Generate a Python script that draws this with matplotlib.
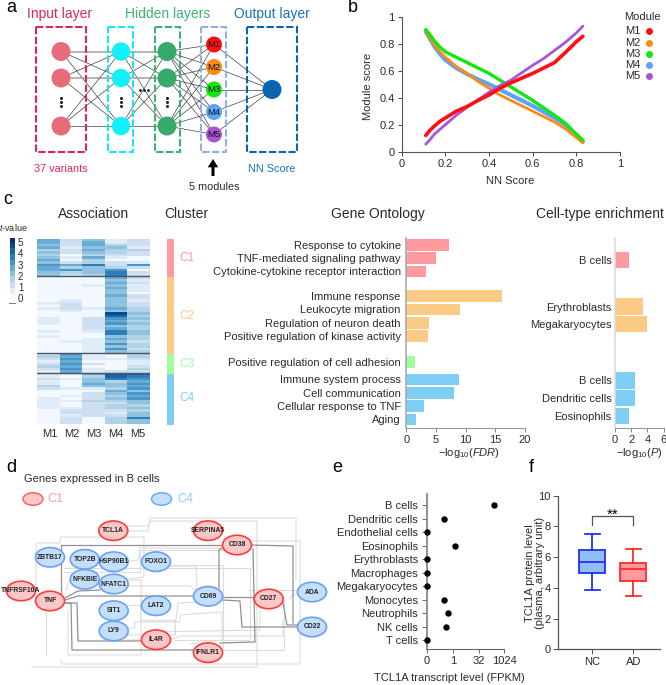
import matplotlib
matplotlib.use("Agg")
import matplotlib.pyplot as plt
import numpy as np
from matplotlib.colors import ListedColormap, BoundaryNorm
from matplotlib.patches import Circle, Ellipse, Rectangle

plt.rcParams['font.family'] = ['Liberation Sans', 'DejaVu Sans']
plt.rcParams['mathtext.fontset'] = 'custom'
plt.rcParams['mathtext.rm'] = 'Liberation Sans'
plt.rcParams['mathtext.it'] = 'Liberation Sans:italic'
plt.rcParams['mathtext.default'] = 'regular'

W, H = 666, 685
DARK = '#2a2a2a'

# panel b
nn_x = [0.11, 0.13, 0.15, 0.175, 0.2, 0.25, 0.3, 0.35, 0.4, 0.45, 0.5, 0.55, 0.6, 0.65, 0.7, 0.75, 0.8, 0.83]
m1 = [0.12, 0.16, 0.19, 0.225, 0.25, 0.30, 0.335, 0.38, 0.42, 0.47, 0.51, 0.545, 0.58, 0.62, 0.66, 0.735, 0.815, 0.855]
m2 = [0.89, 0.84, 0.79, 0.74, 0.70, 0.63, 0.58, 0.52, 0.47, 0.42, 0.38, 0.34, 0.30, 0.26, 0.22, 0.17, 0.105, 0.065]
m3 = [0.905, 0.865, 0.82, 0.775, 0.74, 0.70, 0.66, 0.62, 0.58, 0.53, 0.48, 0.43, 0.38, 0.325, 0.27, 0.21, 0.13, 0.085]
m4 = [0.89, 0.835, 0.78, 0.725, 0.68, 0.62, 0.575, 0.535, 0.50, 0.46, 0.42, 0.38, 0.34, 0.295, 0.25, 0.20, 0.12, 0.075]
m5 = [0.055, 0.09, 0.13, 0.165, 0.20, 0.27, 0.33, 0.385, 0.44, 0.49, 0.53, 0.585, 0.64, 0.69, 0.75, 0.81, 0.88, 0.93]
module_names = ['M1', 'M2', 'M3', 'M4', 'M5']
module_cols = ['#ff1010', '#ff8a14', '#10e810', '#5aa5f5', '#a855d8']

# panel c heatmap, one list per cluster, rows top to bottom
cluster_sizes = [68, 139, 36, 93]
c1_rows = [
    [2.5, 2.8, 2.0, 2.5, 1.8, 2.2, 1.5, 2.0, 2.8, 2.0, 3.0, 2.5, 2.8, 2.0, 2.2],
    [1.2, 1.0, 1.3, 0.5, 1.0, 1.2, 0.4, 0.8, 0.3, 1.0, 2.5, 1.5, 3.0, 1.8, 1.2],
    [2.0, 2.5, 2.8, 2.0, 2.5, 2.2, 1.8, 2.5, 1.5, 1.8, 3.5, 2.0, 2.0, 2.0, 1.8],
    [0.6, 0.8, 1.5, 2.0, 1.8, 1.5, 1.2, 0.5, 0.4, 1.0, 1.2, 1.5, 3.2, 3.5, 3.8],
    [1.2, 1.0, 1.0, 0.8, 1.5, 1.2, 1.0, 0.3, 0.1, 0.5, 3.0, 1.0, 0.3, 1.2, 1.3],
]
c2_rows = [
    [.1, .1, .1, .1, .2, .1, .1, .2, .4, .3, .6, .3, .8, .4, .1, .1, .6, .5, .7, .4, .2, .8, .3, .6, .1, .1, .3, .2, .1, .1],
    [.3, .2, .1, .1, .2, .1, .2, .4, .4, .5, 1.2, 1, 1.2, .5, .3, .1, .1, .2, .1, .2, .3, .1, .1, .4, .3, .5, .4, .3, .4, .3],
    [.1, .1, .3, .5, .1, .1, .1, .1, .1, .2, .4, .1, .5, .1, .3, .1, 1.2, 1.2, 1, 1, 1, .8, .3, .4, .5, .6, .5, .7, .6, .5],
    [2.6, 2.4, 2.8, 2.2, 2.5, 2.3, 2, 2.5, 2.2, 2, 2.4, 2, 2.6, 2.2, 4.5, 4, 3, 2.5, 3, 2.4, 2.8, 3.8, 3.5, 2.2, 2.6, 2, 3, 2.2, 3, 2.4],
    [1, .8, 1.2, .9, .6, .8, .4, 1.2, 1, .5, 1.4, 1, 1.5, 1.8, 2.2, 1.5, 2, 1.5, 2.2, 1.6, 1.8, 2.2, 2.4, 1.6, 1.6, 1.4, 1.5, 1.5, 1.4, 1.6],
]
c3_rows = [
    [1, 1.5, 1, .8, 1, 1.5, 1.2, .8],
    [3, 2.5, 3, 2.8, 3, 2.5, 3, 2.8],
    [.3, .5, .8, .3, 1, .2, .5, .6],
    [.8, .3, .5, .1, .1, .1, .1, 1],
    [1.8, 1.5, 1, .6, .8, 1.2, 1.5, 1],
]
c4_rows = [
    [.8, .6, 1, .9, .5, 1.8, 1.4, .2, .1, .3, .9, .5, .8, .5, .9, .3, .2, .1, .2, .3, .1],
    [.5, .2, .6, .1, .3, .2, .9, .1, .3, .6, .1, .5, .1, .3, .8, 1, 1.2, .8, 1, 1.2, 1.3],
    [2.6, 1.8, 2, 2.2, 2.5, 2.2, .6, .3, 1.2, 1.3, 1.2, 1.5, 1.2, 1.2, 1.3, 1.2, 1.2, 1.2, .2, .4, .2],
    [4, 4.2, 3.8, 1.5, 2.4, 2, 1.5, 2.5, 2.2, 1.5, 2.4, 1.8, 1.2, 1.8, 1.5, 1, .7, 1.2, 1.5, 1.8, 1.6],
    [4, 3.5, 3, 2.6, 3.2, 2.8, 3.2, 2.4, 3, 2.5, 3, 2.4, 2, 1.6, 2, 1.5, 2.4, 2.2, 3.5, 2.2, 2],
]

cluster_names = ['C1', 'C2', 'C3', 'C4']
cluster_cols = ['#ff9a9e', '#fbcb85', '#a0ff9a', '#7dcdf4']

go_terms = ['Response to cytokine', 'TNF-mediated signaling pathway', 'Cytokine-cytokine receptor interaction',
            'Immune response', 'Leukocyte migration', 'Regulation of neuron death',
            'Positive regulation of kinase activity', 'Positive regulation of cell adhesion',
            'Immune system process', 'Cell communication', 'Cellular response to TNF', 'Aging']
go_vals = [7.2, 5.0, 3.4, 16.2, 9.0, 3.8, 3.7, 1.5, 8.9, 8.1, 2.9, 1.7]
go_cluster = [0, 0, 0, 1, 1, 1, 1, 2, 3, 3, 3, 3]

cell_terms = ['B cells', 'Erythroblasts', 'Megakaryocytes', 'B cells', 'Dendritic cells', 'Eosinophils']
cell_vals = [1.7, 3.5, 4.0, 2.5, 2.5, 1.7]
cell_cluster = [0, 1, 1, 3, 3, 3]

# panel e, zero drawn on the axis start
e_cells = ['B cells', 'Dendritic cells', 'Endothelial cells', 'Eosinophils', 'Erythroblasts', 'Macrophages',
           'Megakaryocytes', 'Monocytes', 'Neutrophils', 'NK cells', 'T cells']
e_fpkm = [240, 0.3, 0, 1.4, 0, 0, 0, 0.3, 0.5, 0.39, 0]

# panel f
f_groups = ['NC', 'AD']
f_whislo = [3.85, 3.5]
f_q1 = [5.0, 4.45]
f_med = [5.7, 5.2]
f_q3 = [6.45, 5.65]
f_whishi = [7.5, 6.55]


def ax_px(x0, y0, x1, y1):
    # axes from pixel box, y going down
    return fig.add_axes([x0 / W, 1 - y1 / H, (x1 - x0) / W, (y1 - y0) / H])


def ortho(pts):
    # insert a corner so routed edges only run flat or upright
    out = [pts[0]]
    for (xa, ya), (xb, yb) in zip(pts, pts[1:]):
        if abs(xb - xa) > 4 and abs(yb - ya) > 4:
            out.append((xb, ya))
        out.append((xb, yb))
    return out


fig = plt.figure(figsize=(W / 100, H / 100), dpi=100)
bg = fig.add_axes([0, 0, 1, 1])
bg.set_xlim(0, W)
bg.set_ylim(H, 0)
bg.axis('off')


def label(x, y, s, size=8, color=DARK, ha='center', **kw):
    bg.text(x, y, s, fontsize=size, color=color, ha=ha, va='center', **kw)


for s, x, y in [('a', 11, 7), ('b', 353, 7), ('c', 8, 199), ('d', 11, 467), ('e', 337, 467), ('f', 531, 467)]:
    label(x, y, s, size=13, color='black')

# ---- a: network
layer_y = [51.5, 78, 126]
input_x, hid1_x, hid2_x, mod_x, out_x = 61, 121, 167, 214, 272
mod_y = [44.5, 67, 89.5, 112, 134.5]
out_y = 89.5

for xa, xb in [(input_x, hid1_x), (hid1_x, hid2_x)]:
    for ya in layer_y:
        for yb in layer_y:
            if ya == yb and ya != layer_y[2]:
                bg.plot([xa, xb], [ya, yb], color='#a0a0a0', lw=1.1, zorder=1)
            else:
                bg.plot([xa, xb], [ya, yb], color='#444444', lw=0.5, zorder=1)
for ya in layer_y:
    for yb in mod_y:
        bg.plot([hid2_x, mod_x], [ya, yb], color='#444444', lw=0.5, zorder=1)
for yb in mod_y:
    bg.plot([mod_x, out_x], [yb, out_y], color='#444444', lw=0.5, zorder=1)

boxes = [(36, 86, '#e0245e'), (108, 133, '#19e6f0'), (155, 180, '#3cb371'), (201, 226, '#8fb0e0'), (247, 297, '#0a64b4')]
for x0, x1, c in boxes:
    bg.add_patch(Rectangle((x0, 27), x1 - x0, 125, fill=False, ec=c, lw=1.5, ls=(0, (3.5, 1.2)), zorder=2))

for x, c, r in [(input_x, '#e96a7a', 9.5), (hid1_x, '#12f0fa', 9.2), (hid2_x, '#35ab6b', 9.5)]:
    for y in layer_y:
        bg.add_patch(Circle((x, y), r, fc=c, ec='none', zorder=3))
    for dy in [-4, 0, 4]:
        bg.plot([x], [102 + dy], 'o', ms=1.2, color='#222222', zorder=3)
for dx in [-4, 0, 4]:
    bg.plot([144 + dx], [90], 'o', ms=1.0, color='#222222', zorder=3)
for y, c, n in zip(mod_y, module_cols, module_names):
    bg.add_patch(Circle((mod_x, y), 8, fc=c, ec='none', zorder=3))
    bg.text(mod_x, y, n, fontsize=6.8, ha='center', va='center', color='#111111', zorder=4)
bg.add_patch(Circle((out_x, out_y), 9.5, fc='#0a64b4', ec='none', zorder=3))

label(60, 14, 'Input layer', size=10, color='#e0245e')
label(168, 14, 'Hidden layers', size=10, color='#3cb371')
label(272, 14, 'Output layer', size=10, color='#1a70bd')
label(61, 169, '37 variants', size=7.8, color='#e0245e')
label(272, 169, 'NN Score', size=7.8, color='#1a70bd')
label(214, 187, '5 modules', size=7.8)
bg.annotate('', xy=(213, 159), xytext=(213, 176),
            arrowprops=dict(facecolor='black', edgecolor='black', width=2.2, headwidth=7.5, headlength=6, lw=0))

# ---- b: module scores
ax = ax_px(401.7, 16.7, 620, 151.7)
for vals, c, n in zip([m4, m2, m3, m5, m1], ['#5aa5f5', '#ff8a14', '#10e810', '#a855d8', '#ff1010'],
                      ['M4', 'M2', 'M3', 'M5', 'M1']):
    lw = {'M4': 3.0, 'M1': 2.6, 'M3': 2.4}.get(n, 2.0)
    ax.plot(nn_x, vals, color=c, lw=lw, solid_capstyle='round')
ax.set_xlim(0, 1)
ax.set_ylim(0, 1)
ticks_b = [0, 0.2, 0.4, 0.6, 0.8, 1]
labels_b = ['0', '0.2', '0.4', '0.6', '0.8', '1']
ax.set_xticks(ticks_b, labels_b)
ax.set_yticks(ticks_b, labels_b)
ax.tick_params(labelsize=8, length=3, width=0.7, colors='#444444', labelcolor=DARK, pad=2)
for s in ['top', 'right']:
    ax.spines[s].set_visible(False)
for s in ['left', 'bottom']:
    ax.spines[s].set_color('#555555')
    ax.spines[s].set_linewidth(0.8)
ax.patch.set_alpha(0)
label(510, 181, 'NN Score', size=8)
label(368, 86, 'Module score', size=8, rotation=90)
label(624, 17, 'Module', size=8, ha='left')
for y, c, n in zip([31, 42.5, 54, 65, 76], module_cols, module_names):
    label(625, y, n, size=8, ha='left')
    bg.plot([649], [y], 'o', ms=4, color=c)

# ---- c: heatmap
levels = np.arange(0, 6.0, 0.5)
cmap = ListedColormap(plt.cm.Blues(np.linspace(0.02, 1.0, len(levels) - 1)))
norm = BoundaryNorm(levels, cmap.N)
ax = ax_px(37.3, 239, 150, 424)
start = 0
for size, rows in zip(cluster_sizes, [c1_rows, c2_rows, c3_rows, c4_rows]):
    mat = np.array(rows).T
    edges = np.linspace(start, start + size, mat.shape[0] + 1)
    ax.pcolormesh(np.arange(6), edges, mat, cmap=cmap, norm=norm)
    start += size
    if start < sum(cluster_sizes):
        ax.axhline(start, color='#4a5560', lw=1.0)
ax.set_xlim(0, 5)
ax.set_ylim(sum(cluster_sizes), 0)
ax.set_xticks([])
ax.set_yticks([])
for s in ax.spines.values():
    s.set_visible(False)
for m, x in zip(module_names, [50, 72, 94, 116, 138]):
    label(x, 434, m, size=8)
label(94, 214, 'Association', size=10)
label(186, 214, 'Cluster', size=10)
label(378, 214, 'Gene Ontology', size=10)
label(600, 214, 'Cell-type enrichment', size=10)
for n, y in zip(cluster_sizes, [246, 282, 359, 378.5]):
    label(148, y, str(n), size=7.5, ha='right')

# colour key
cax = ax_px(10, 238, 15, 299)
grad = np.arange(0.25, 5.5, 0.5).reshape(-1, 1)
cax.imshow(grad, cmap=cmap, norm=norm, origin='lower', aspect='auto')
cax.axis('off')
for v in range(6):
    label(18, 299.3 - v * 11.26, str(v), size=7, ha='left')
bg.plot([9, 15], [302.5, 302.5], color='#777777', lw=0.7)
label(-1, 227, r'$\mathit{t}$-value', size=6.5, ha='left')

# cluster bar
cluster_top = 239
for size, c, n, y_mid in zip(cluster_sizes, cluster_cols, cluster_names, [258, 316, 364, 398]):
    h = size * 186 / sum(cluster_sizes)
    bg.add_patch(Rectangle((167, cluster_top), 7, h, fc=c, ec='none'))
    label(187, y_mid, n, size=8.5, color=c)
    cluster_top += h

# gene ontology
go_rows = [0, 1, 2, 3.85, 4.85, 5.85, 6.85, 8.8, 10.1, 11.1, 12.1, 13.1]
ax = ax_px(406.3, 237.7, 525, 427.7)
ax.barh(go_rows, go_vals, height=0.88, color=[cluster_cols[i] for i in go_cluster])
ax.set_ylim(13.72, -0.53)
ax.set_xlim(0, 20)
ax.set_yticks(go_rows, go_terms)
ax.set_xticks([0, 5, 10, 15, 20])
ax.tick_params(axis='y', length=0, labelsize=8, labelcolor=DARK, pad=4)
ax.tick_params(axis='x', length=3, width=0.7, labelsize=8, labelcolor=DARK, color='#888888', pad=2)
for s in ['top', 'right']:
    ax.spines[s].set_visible(False)
ax.spines['left'].set_color('#aaaaaa')
ax.spines['left'].set_linewidth(1.2)
ax.spines['bottom'].set_color('#999999')
label(469, 453, r'$-log_{10}(\mathit{FDR})$', size=8)

# cell types
cell_rows = [0, 2.64, 3.61, 6.8, 7.8, 8.8]
ax = ax_px(615, 237.7, 663.7, 427.7)
ax.barh(cell_rows, cell_vals, height=0.92, color=[cluster_cols[i] for i in cell_cluster])
ax.set_ylim(9.47, -1.25)
ax.set_xlim(0, 6)
ax.set_yticks(cell_rows, cell_terms)
ax.set_xticks([0, 2, 4, 6])
ax.tick_params(axis='y', length=0, labelsize=8, labelcolor=DARK, pad=2.5)
ax.tick_params(axis='x', length=3, width=0.7, labelsize=8, labelcolor=DARK, color='#888888', pad=2)
for s in ['top', 'right']:
    ax.spines[s].set_visible(False)
ax.spines['left'].set_color('#dddddd')
ax.spines['left'].set_linewidth(1.2)
ax.spines['bottom'].set_color('#999999')
label(639, 453, r'$-log_{10}(\mathit{P})$', size=8)

# ---- d: network of genes
c1_genes = {'TCL1A': (113.3, 530.7), 'SERPINA5': (208, 530.7), 'CD38': (237, 545), 'TNFRSF10A': (21, 591),
            'TNF': (50, 601), 'CD27': (268.7, 599), 'IL4R': (156, 639.7), 'IFNLR1': (208, 652.7)}
c4_genes = {'ZBTB17': (50, 557.3), 'TOP2B': (84.7, 559.3), 'HSP90B1': (113.7, 561.7), 'FOXO1': (156, 561.7),
            'NFKBIE': (84.7, 579.3), 'NFATC1': (113.7, 584), 'CD69': (208, 596.3), 'LAT2': (156, 605.7),
            'SIT1': (113.7, 610.7), 'LY9': (113.7, 631), 'ADA': (312, 592), 'CD22': (312, 627)}

light_edges = [
    [(32, 667), (257, 667), (257, 521), (151, 521), (148, 526), (126, 526)],
    [(128, 531), (148, 531), (150, 518), (296, 518), (296, 580)],
    [(61, 660), (62, 664), (300, 664), (300, 541), (252, 541)],
    [(36, 590), (36, 543), (60, 543), (61, 537), (144, 537), (144, 577), (128, 579)],
    [(46, 655), (46, 590)],
    [(64, 572), (140, 572), (140, 550), (240, 550)],
    [(64, 568), (138, 568), (145, 568), (250, 568), (250, 640), (175, 640)],
    [(130, 561), (139, 560), (139, 548), (222, 548)],
    [(142, 566), (196, 566), (197, 590)],
    [(170, 565), (223, 565), (223, 650)],
    [(128, 586), (190, 586), (195, 590)],
    [(66, 590), (70, 580), (141, 580), (141, 655), (68, 655), (68, 610)],
    [(128, 605), (140, 605), (140, 620), (175, 620), (175, 633)],
    [(128, 628), (135, 622), (180, 622), (180, 615), (222, 612), (222, 640), (190, 644)],
    [(128, 635), (175, 628), (178, 603), (198, 602)],
    [(128, 640), (148, 632), (260, 630), (260, 600)],
    [(170, 640), (180, 636), (283, 636), (283, 620)],
    [(190, 650), (284, 650), (284, 600)],
    [(248, 590), (296, 590)],
    [(290, 599), (292, 595), (300, 595)],
]
dark_edges = [
    [(61, 598), (61, 545), (222, 545)],
    [(63, 603), (77, 603), (78, 641), (142, 641)],
    [(66, 603), (71, 603), (72, 650), (193, 650)],
    [(65, 600), (78, 596), (193, 596)],
    [(65, 598), (78, 591), (100, 590)],
    [(253, 549), (255, 642), (220, 643)],
    [(222, 548), (219, 550), (219, 588)],
    [(223, 600), (240, 601), (242, 627), (297, 627)],
    [(250, 545), (293, 546), (293, 623)],
    [(283, 603), (287, 625), (297, 625)],
    [(223, 597), (254, 597)],
]
for pts in light_edges:
    xs, ys = zip(*ortho(pts))
    bg.plot(xs, ys, color='#dcdcdc', lw=0.8, zorder=1, solid_joinstyle='round')
for pts in dark_edges:
    xs, ys = zip(*pts)
    bg.plot(xs, ys, color='#909090', lw=0.9, zorder=2, solid_joinstyle='round')

for genes, fc, ec in [(c1_genes, '#ffc8c8', '#ff3b3b'), (c4_genes, '#c4dffc', '#6aa2f2')]:
    for g, (x, y) in genes.items():
        bg.add_patch(Ellipse((x, y), 29, 19.5, fc=fc, ec=ec, lw=1.2, zorder=3))
        bg.text(x, y, g, fontsize=4.9, fontweight='bold', color='#222222', ha='center', va='center', zorder=4)

label(24, 479, 'Genes expressed in B cells', size=8, ha='left')
bg.add_patch(Ellipse((33, 499), 20, 12.5, fc='#ffc8c8', ec='#ff5a5a', lw=1.0))
label(47, 499, 'C1', size=9, color='#ff9a9e', ha='left')
bg.add_patch(Ellipse((161.5, 499), 20, 12.5, fc='#c4dffc', ec='#6aa2f2', lw=1.0))
label(177, 499, 'C4', size=9, color='#87d0ff', ha='left')

# ---- e: transcript level
ax = ax_px(427, 494, 504.3, 649.3)
e_floor = 1 / 32
e_plot = [v if v > 0 else e_floor for v in e_fpkm]
ax.set_xscale('log', base=2)
ax.plot(e_plot, range(len(e_cells)), 'o', ms=3.6, color='black', ls='none', clip_on=False, zorder=5)
ax.set_xlim(e_floor, 1024)
ax.set_ylim(10.66, -0.81)
ax.set_xticks([e_floor, 1, 32, 1024], ['0', '1', '32', '1024'])
ax.minorticks_off()
ax.set_yticks(range(len(e_cells)), e_cells)
ax.tick_params(axis='y', length=3.5, width=0.7, labelsize=8, labelcolor=DARK, color='#666666', pad=3)
ax.tick_params(axis='x', length=3, width=0.7, labelsize=8, labelcolor=DARK, color='#666666', pad=2)
for s in ['top', 'right']:
    ax.spines[s].set_visible(False)
ax.spines['left'].set_color('#888888')
ax.spines['left'].set_linewidth(1.3)
ax.spines['bottom'].set_color('#666666')
ax.patch.set_alpha(0)
label(449, 678, 'TCL1A transcript level (FPKM)', size=8)

# ---- f: protein level box plot
ax = ax_px(558.3, 495.7, 660, 649.3)
stats = [dict(med=a, q1=b, q3=c, whislo=d, whishi=e, fliers=[])
         for a, b, c, d, e in zip(f_med, f_q1, f_q3, f_whislo, f_whishi)]
box_edges = ['#2030ff', '#ff2a2a']
box_fills = ['#8fbff5', '#ff9a9e']
for i in range(2):
    ax.bxp([stats[i]], positions=[i + 1], widths=0.63, patch_artist=True, showfliers=False,
           boxprops=dict(facecolor=box_fills[i], edgecolor=box_edges[i], linewidth=1.3),
           medianprops=dict(color=box_edges[i], linewidth=1.3),
           whiskerprops=dict(color=box_edges[i], linewidth=1.3),
           capprops=dict(color=box_edges[i], linewidth=1.3), capwidths=0.35)
ax.plot([1, 1, 2, 2], [8.1, 8.68, 8.68, 8.1], color='#555555', lw=0.9)
ax.text(1.5, 8.75, '**', fontsize=11, ha='center', va='center', color='black')
ax.set_xlim(0.17, 2.65)
ax.set_ylim(0, 10)
ax.set_xticks([1, 2], f_groups)
ax.set_yticks([0, 2, 4, 6, 8, 10])
ax.tick_params(labelsize=8, labelcolor=DARK, length=3.5, width=0.7, color='#555555', pad=2)
for s in ['top', 'right']:
    ax.spines[s].set_visible(False)
for s in ['left', 'bottom']:
    ax.spines[s].set_color('#555555')
    ax.spines[s].set_linewidth(0.9)
ax.patch.set_alpha(0)
label(535, 573, 'TCL1A protein level\n(plasma, arbitrary unit)', size=8, rotation=90, linespacing=1.05)

fig.savefig('out.png', dpi=100)
